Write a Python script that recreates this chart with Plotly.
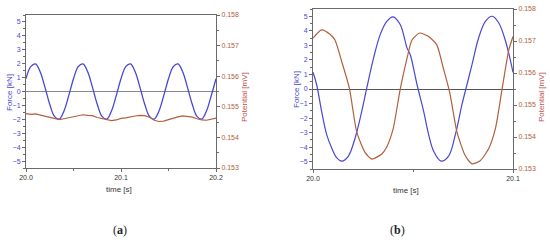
import plotly.graph_objects as go

# ---- panel (a): 20.0 - 20.2 s ----
time_a = [20.0 + 0.005 * k for k in range(41)]
force_a = [0.92, 1.79, 1.98, 1.40, 0.30, -0.92, -1.79, -1.98, -1.40, -0.30,
           0.92, 1.79, 1.98, 1.40, 0.30, -0.92, -1.79, -1.98, -1.40, -0.30,
           0.92, 1.79, 1.98, 1.40, 0.30, -0.92, -1.79, -1.98, -1.40, -0.30,
           0.92, 1.79, 1.98, 1.40, 0.30, -0.92, -1.79, -1.98, -1.40, -0.30,
           0.92]
potential_a = [0.15478, 0.15475, 0.15477, 0.15473, 0.15470, 0.15466, 0.15462,
               0.15458, 0.15461, 0.15464, 0.15467, 0.15471, 0.15474, 0.15472,
               0.15471, 0.15465, 0.15461, 0.15458, 0.15455, 0.15457, 0.15462,
               0.15464, 0.15468, 0.15470, 0.15472, 0.15471, 0.15466, 0.15456,
               0.15452, 0.15453, 0.15458, 0.15463, 0.15467, 0.15470, 0.15469,
               0.15466, 0.15461, 0.15457, 0.15456, 0.15460, 0.15463]

# ---- panel (b): 20.0 - 20.1 s ----
time_force_b = [20.0, 20.0018, 20.0043, 20.0068, 20.0093, 20.0118, 20.0144,
                20.0177, 20.0211, 20.0244, 20.0269, 20.0303, 20.0336, 20.0369,
                20.0400, 20.0436, 20.0470, 20.0486, 20.0520, 20.0553, 20.0578,
                20.0603, 20.0640, 20.0678, 20.0712, 20.0745, 20.0770, 20.0795,
                20.0828, 20.0862, 20.0896, 20.0929, 20.0963, 20.1000]
force_b = [1.15, 0.31, -1.52, -3.12, -4.04, -4.72, -4.96, -4.61, -3.35, -1.52,
           0.08, 2.14, 3.74, 4.65, 4.96, 4.43, 2.83, 2.37, 0.31, -1.52, -3.12,
           -4.27, -4.96, -4.61, -3.12, -1.06, 0.31, 1.68, 3.51, 4.65, 5.00,
           4.54, 3.28, 1.15]
time_pot_b = [20.0, 20.0043, 20.0085, 20.0110, 20.0144, 20.0182, 20.0219,
              20.0260, 20.0294, 20.0344, 20.0368, 20.0401, 20.0435, 20.0470,
              20.0495, 20.0533, 20.0578, 20.0619, 20.0652, 20.0683, 20.0720,
              20.0761, 20.0795, 20.0836, 20.0878, 20.0912, 20.0946, 20.0979,
              20.1000]
potential_b = [0.15709, 0.15735, 0.15721, 0.15703, 0.15635, 0.15552, 0.15415,
               0.15352, 0.15331, 0.15347, 0.15368, 0.15426, 0.15546, 0.15646,
               0.15703, 0.15725, 0.15714, 0.15688, 0.15614, 0.15541, 0.15415,
               0.15342, 0.15316, 0.15326, 0.15363, 0.15426, 0.15552, 0.15672,
               0.15714]

BLUE = "#4a46d4"
BROWN = "#b0603c"
RED_TXT = "#c0504a"
AXIS = "#6a6a6a"
FONT = "Liberation Sans, Arial, sans-serif"
W, H = 550, 243
TICK_SIZE = 7

fig = go.Figure()
fig.add_trace(go.Scatter(x=time_a, y=force_a, mode="lines", line=dict(color=BLUE, width=1.3, shape="spline"),
                         xaxis="x", yaxis="y"))
fig.add_trace(go.Scatter(x=time_a, y=potential_a, mode="lines", line=dict(color=BROWN, width=1.2),
                         xaxis="x", yaxis="y2"))
fig.add_trace(go.Scatter(x=time_force_b, y=force_b, mode="lines", line=dict(color=BLUE, width=1.2, shape="spline"),
                         xaxis="x2", yaxis="y3"))
fig.add_trace(go.Scatter(x=time_pot_b, y=potential_b, mode="lines",
                         line=dict(color=BROWN, width=1.2, shape="spline", smoothing=0.6),
                         xaxis="x2", yaxis="y4"))


def xax(domain, rng, dtick, anchor):
    return dict(domain=domain, range=rng, anchor=anchor, dtick=dtick, tick0=20.0, tickformat=".1f",
                automargin=False,
                showline=True, linecolor=AXIS, linewidth=1, mirror=True, showgrid=False, zeroline=False,
                ticks="outside", ticklen=3, tickcolor=AXIS,
                tickfont=dict(size=TICK_SIZE, color="#333333", family=FONT),
                minor=dict(dtick=dtick / 2, ticks="outside", ticklen=2, tickcolor=AXIS))


def yleft(domain, anchor, zcolor):
    return dict(domain=domain, range=[-5.5, 5.5], anchor=anchor, dtick=1, showline=True, linecolor=AXIS,
                automargin=False,
                linewidth=1, showgrid=False, zeroline=True, zerolinecolor=zcolor, zerolinewidth=1.2,
                ticks="outside", ticklen=3, tickcolor=AXIS,
                tickfont=dict(size=TICK_SIZE, color=BLUE, family=FONT),
                minor=dict(dtick=0.5, ticks="outside", ticklen=2, tickcolor=AXIS))


def yright(overlay, anchor):
    return dict(range=[0.153, 0.158], overlaying=overlay, anchor=anchor, side="right", dtick=0.001,
                automargin=False,
                tickformat=".3f", showline=True, linecolor=AXIS, linewidth=1, showgrid=False, zeroline=False,
                ticks="outside", ticklen=3, tickcolor=AXIS,
                tickfont=dict(size=TICK_SIZE, color=BROWN, family=FONT),
                minor=dict(dtick=0.0005, ticks="outside", ticklen=2, tickcolor=AXIS))


fig.update_layout(
    width=W, height=H,
    margin=dict(l=0, r=0, t=0, b=0),
    paper_bgcolor="white", plot_bgcolor="white",
    showlegend=False,
    xaxis=xax([26 / W, 216 / W], [20.0, 20.2], 0.1, "y"),
    yaxis=yleft([1 - 168 / H, 1 - 15 / H], "x", "#8a8a8a"),
    yaxis2=yright("y", "x"),
    xaxis2=xax([313 / W, 513 / W], [20.0, 20.1], 0.1, "y3"),
    yaxis3=yleft([1 - 169 / H, 1 - 9 / H], "x2", "#555555"),
    yaxis4=yright("y3", "x2"),
)


def label(text, x, y, color, size=8, angle=0, family=FONT):
    fig.add_annotation(x=x / W, y=1 - y / H, xref="paper", yref="paper", text=text,
                       textangle=angle, showarrow=False, xanchor="center", yanchor="middle",
                       font=dict(size=size, color=color, family=family))


# axis titles
label("Force [kN]", 10, 93, BLUE, angle=-90)
label("Force [kN]", 296, 90, BLUE, angle=-90)
label("Potential [mV]", 244, 97, RED_TXT, angle=-90)
label("Potential [mV]", 541, 97, RED_TXT, angle=-90)
label("time [s]", 119, 189, "#333333")
label("time [s]", 406, 190, "#333333")

# panel tags
label("(<b>a</b>)", 120, 230, "#222222", size=12, family="Liberation Serif, Times New Roman, serif")
label("(<b>b</b>)", 397, 230, "#222222", size=12, family="Liberation Serif, Times New Roman, serif")

# page body has a default 8px margin; drop it so the figure fills the window
fig.write_html("out.html", config={"displayModeBar": False},
               post_script="document.body.style.margin='0';")
